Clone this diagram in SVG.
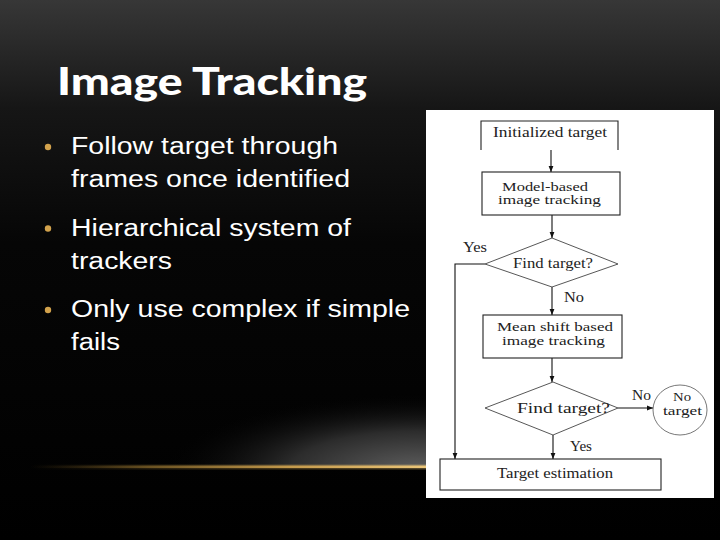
<svg xmlns="http://www.w3.org/2000/svg" width="720" height="540" viewBox="0 0 720 540">
<defs>
<linearGradient id="bg" x1="0" y1="0" x2="0" y2="1">
<stop offset="0" stop-color="#373737"/>
<stop offset="0.2" stop-color="#161616"/>
<stop offset="0.45" stop-color="#060606"/>
<stop offset="1" stop-color="#000"/>
</linearGradient>
<radialGradient id="glow" cx="420" cy="470" r="260" gradientUnits="userSpaceOnUse" gradientTransform="translate(420 470) scale(1 0.3) translate(-420 -470)">
<stop offset="0" stop-color="#5e5e5e"/>
<stop offset="0.5" stop-color="#2c2c2c"/>
<stop offset="1" stop-color="#000" stop-opacity="0"/>
</radialGradient>
<linearGradient id="gold" x1="30" y1="0" x2="430" y2="0" gradientUnits="userSpaceOnUse">
<stop offset="0" stop-color="#3a2c10" stop-opacity="0"/>
<stop offset="0.3" stop-color="#6a5222"/>
<stop offset="0.65" stop-color="#c49a4c"/>
<stop offset="1" stop-color="#ecc77a"/>
</linearGradient>
<marker id="ah" viewBox="0 0 10 10" refX="10" refY="5" markerWidth="6" markerHeight="6" markerUnits="userSpaceOnUse" orient="auto">
<path d="M0,1 L10,5 L0,9 z" fill="#111"/>
</marker>
<style>
.title{font-family:"Lato","DejaVu Sans",sans-serif;font-weight:900;font-size:38px;fill:#fff}
.bul{font-family:"Liberation Sans",Arial,sans-serif;font-size:23.5px;fill:#fff}
.dot{fill:#d2a24c}
.fc{font-family:"Liberation Serif","Times New Roman",serif;font-size:15px;fill:#222}
.fs{font-family:"Liberation Serif","Times New Roman",serif;font-size:12.5px;fill:#222}
.box{fill:none;stroke:#222;stroke-width:1.1}
.dia{fill:none;stroke:#444;stroke-width:0.9}
.ln{fill:none;stroke:#111;stroke-width:1.1}
</style>
</defs>
<rect x="0" y="0" width="720" height="540" fill="url(#bg)"/>
<rect x="0" y="380" width="720" height="87" fill="url(#glow)"/>
<rect x="30" y="464.5" width="400" height="5" fill="url(#gold)" opacity="0.35"/>
<rect x="30" y="465.6" width="400" height="2.4" fill="url(#gold)"/>

<text class="title" x="57" y="95" textLength="310" lengthAdjust="spacingAndGlyphs">Image Tracking</text>

<g id="bullets">
<circle class="dot" cx="48" cy="147" r="3.2"/>
<text class="bul" x="71" y="154" textLength="267" lengthAdjust="spacingAndGlyphs">Follow target through</text>
<text class="bul" x="71" y="187" textLength="279" lengthAdjust="spacingAndGlyphs">frames once identified</text>
<circle class="dot" cx="48" cy="228.5" r="3.2"/>
<text class="bul" x="71" y="235.5" textLength="280" lengthAdjust="spacingAndGlyphs">Hierarchical system of</text>
<text class="bul" x="71" y="268.5" textLength="101" lengthAdjust="spacingAndGlyphs">trackers</text>
<circle class="dot" cx="48" cy="310" r="3.2"/>
<text class="bul" x="71" y="317" textLength="339" lengthAdjust="spacingAndGlyphs">Only use complex if simple</text>
<text class="bul" x="71" y="350" textLength="49" lengthAdjust="spacingAndGlyphs">fails</text>
</g>

<rect x="426" y="110" width="288" height="388" fill="#fff"/>

<g id="connectors">
<line class="ln" x1="551" y1="150" x2="551" y2="172" marker-end="url(#ah)"/>
<line class="ln" x1="552" y1="215" x2="552" y2="238" marker-end="url(#ah)"/>
<line class="ln" x1="552" y1="287" x2="552" y2="315" marker-end="url(#ah)"/>
<line class="ln" x1="552" y1="358" x2="552" y2="382" marker-end="url(#ah)"/>
<line class="ln" x1="553" y1="435" x2="553" y2="459" marker-end="url(#ah)"/>
<polyline class="ln" points="485,264 455,264 455,459" marker-end="url(#ah)"/>
<line class="ln" x1="618" y1="408" x2="653" y2="408" marker-end="url(#ah)"/>
<text class="fc" x="463" y="252" textLength="24" lengthAdjust="spacingAndGlyphs">Yes</text>
<text class="fc" x="564" y="302" textLength="20" lengthAdjust="spacingAndGlyphs">No</text>
<text class="fc" x="632" y="400" textLength="19" lengthAdjust="spacingAndGlyphs">No</text>
<text class="fc" x="570" y="451" textLength="22" lengthAdjust="spacingAndGlyphs">Yes</text>
</g>

<g id="init">
<path class="box" d="M481,150 V121 H618 V150"/>
<text class="fc" x="493" y="137" textLength="114" lengthAdjust="spacingAndGlyphs">Initialized target</text>
</g>
<g id="model">
<rect class="box" x="482" y="172" width="138" height="43"/>
<text class="fs" x="502" y="191" textLength="86" lengthAdjust="spacingAndGlyphs">Model-based</text>
<text class="fs" x="498" y="204" textLength="103" lengthAdjust="spacingAndGlyphs">image tracking</text>
</g>
<g id="find1">
<polygon class="dia" points="552,238 618,264 552,287 485,264"/>
<text class="fc" x="513" y="268" textLength="80" lengthAdjust="spacingAndGlyphs">Find target?</text>
</g>
<g id="meanshift">
<rect class="box" x="483" y="315" width="139" height="43"/>
<text class="fs" x="497" y="331" textLength="116" lengthAdjust="spacingAndGlyphs">Mean shift based</text>
<text class="fs" x="502" y="345" textLength="103" lengthAdjust="spacingAndGlyphs">image tracking</text>
</g>
<g id="find2">
<polygon class="dia" points="553,382 618,408 553,435 485,408"/>
<text class="fc" x="517" y="413" textLength="93" lengthAdjust="spacingAndGlyphs">Find target?</text>
</g>
<g id="notarget">
<ellipse cx="680" cy="410" rx="27" ry="25" fill="none" stroke="#555" stroke-width="0.8"/>
<text class="fs" x="673" y="401" textLength="18" lengthAdjust="spacingAndGlyphs">No</text>
<text class="fs" x="663" y="415" textLength="39" lengthAdjust="spacingAndGlyphs">target</text>
</g>
<g id="estimation">
<rect class="box" x="440" y="459" width="221" height="31"/>
<text class="fc" x="497" y="478" textLength="116" lengthAdjust="spacingAndGlyphs">Target estimation</text>
</g>
</svg>
